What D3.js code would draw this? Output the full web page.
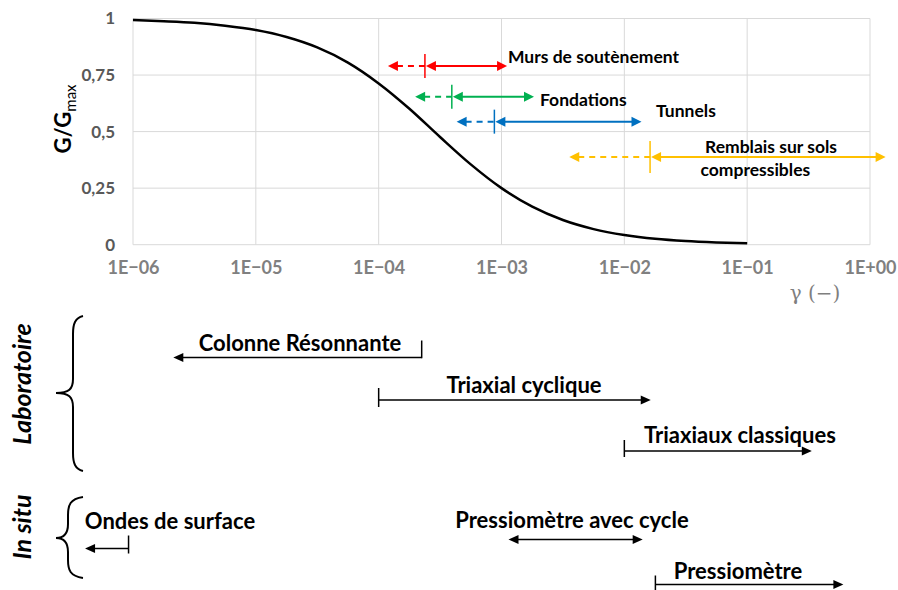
<!DOCTYPE html>
<html>
<head>
<meta charset="utf-8">
<script src="https://cdn.jsdelivr.net/npm/d3@7"></script>
<style>
  html, body { margin: 0; padding: 0; background: #fff; }
  svg { display: block; }
  .lbl { font-family: Lato, "Open Sans", sans-serif; font-weight: 700; fill: #000; }
</style>
</head>
<body>
<svg id="chart" width="898" height="590"></svg>
<script>
// Degradation curve G/Gmax versus shear strain gamma
const curveStrain = [1e-6, 1.78e-6, 3.16e-6, 5.62e-6, 1e-5, 1.78e-5, 3.16e-5, 5.62e-5,
  1e-4, 1.78e-4, 3.16e-4, 5.62e-4, 1e-3, 1.78e-3, 3.16e-3, 5.62e-3,
  1e-2, 1.78e-2, 3.16e-2, 5.62e-2, 1e-1];
const curveRatio = [0.993, 0.988, 0.981, 0.968, 0.949, 0.918, 0.872, 0.805,
  0.713, 0.601, 0.476, 0.355, 0.250, 0.168, 0.109, 0.069,
  0.043, 0.026, 0.016, 0.010, 0.006];

// Strain ranges of geotechnical works (dashed part, then solid part)
const workNames  = ["Murs de soutènement", "Fondations", "Tunnels", "Remblais sur sols|compressibles"];
const workColors = ["#ff0000", "#00b050", "#0070c0", "#ffc000"];
const workLow    = [1.19e-4, 1.98e-4, 4.31e-4, 3.56e-3];
const workMid    = [2.38e-4, 3.94e-4, 8.75e-4, 1.62e-2];
const workHigh   = [1.11e-3, 1.84e-3, 1.38e-2, 1.34];
const workLevel  = [0.79, 0.654, 0.544, 0.388];

// Strain ranges covered by test methods
const testGroups = ["Laboratoire", "In situ"];
const testNames  = ["Colonne Résonnante", "Triaxial cyclique", "Triaxiaux classiques",
                    "Ondes de surface", "Pressiomètre avec cycle", "Pressiomètre"];
const testGroup  = [0, 0, 0, 1, 1, 1];
const testFrom   = [2.13e-6, 1e-4, 1e-2, 4.07e-7, 1.14e-3, 1.79e-2];
const testTo     = [2.24e-4, 1.64e-2, 0.336, 9.2e-7, 1.41e-2, 0.607];
// where the end bar sits: at the right end, the left end, or none (double arrow)
const testEnds   = ["tick-right", "tick-left", "tick-left", "tick-right", "both", "tick-left"];

// Axis ticks
const xTickValues = [1e-6, 1e-5, 1e-4, 1e-3, 1e-2, 1e-1, 1];
const xTickLabels = ["1E\u221206", "1E\u221205", "1E\u221204", "1E\u221203", "1E\u221202", "1E\u221201", "1E+00"];
const yTickValues = [0, 0.25, 0.5, 0.75, 1];
const yTickLabels = ["0", "0,25", "0,5", "0,75", "1"];

const svg = d3.select("#chart");
const x = d3.scaleLog().domain([1e-6, 1]).range([133, 870]);
const y = d3.scaleLinear().domain([0, 1]).range([244.7, 18.5]);

// Gridlines
const grid = svg.append("g");
grid.selectAll("line.v").data(xTickValues).join("line")
  .attr("x1", d => x(d)).attr("x2", d => x(d))
  .attr("y1", y(1)).attr("y2", y(0))
  .attr("stroke", "#d9d9d9").attr("stroke-width", 1);
grid.selectAll("line.h").data(yTickValues).join("line")
  .attr("x1", x(1e-6)).attr("x2", x(1))
  .attr("y1", d => y(d)).attr("y2", d => y(d))
  .attr("stroke", "#d9d9d9").attr("stroke-width", 1);

// Axes (labels only, the lines come from the grid)
const xAxis = d3.axisBottom(x).tickValues(xTickValues)
  .tickFormat((d, i) => xTickLabels[i]).tickSize(0).tickPadding(17);
const gx = svg.append("g").attr("transform", `translate(0,${y(0)})`).call(xAxis);
gx.select(".domain").remove();
gx.selectAll("text").attr("font-family", "Lato, 'Open Sans', sans-serif")
  .attr("font-size", 18).attr("font-weight", 700).attr("fill", "#808080");

const yAxis = d3.axisLeft(y).tickValues(yTickValues)
  .tickFormat((d, i) => yTickLabels[i]).tickSize(0).tickPadding(18);
const gy = svg.append("g").attr("transform", `translate(${x(1e-6)},0)`).call(yAxis);
gy.select(".domain").remove();
gy.selectAll("text").attr("font-family", "Lato, 'Open Sans', sans-serif")
  .attr("font-size", 17).attr("font-weight", 700).attr("fill", "#595959");

// Axis titles
const yt = svg.append("text").attr("class", "lbl")
  .attr("transform", "translate(71,119) rotate(-90)")
  .attr("text-anchor", "middle").attr("font-size", 22);
yt.append("tspan").text("G/G");
yt.append("tspan").attr("font-size", 15).attr("font-weight", 400).attr("dy", 5).text("max");

svg.append("text").attr("x", 815).attr("y", 300)
  .attr("text-anchor", "middle")
  .attr("font-family", "'DejaVu Serif', 'Liberation Serif', serif")
  .attr("font-size", 20).attr("fill", "#7f7f7f")
  .text("\u03b3 (\u2212)");

// Curve
const line = d3.line().x(d => x(d[0])).y(d => y(d[1])).curve(d3.curveMonotoneX);
svg.append("path")
  .datum(curveStrain.map((g, i) => [g, curveRatio[i]]))
  .attr("d", line).attr("fill", "none").attr("stroke", "#000").attr("stroke-width", 2.5);

// Triangle arrowhead with its tip at (tx, ty), pointing right (dir = 1) or left (dir = -1)
function head(g, tx, ty, dir, color, len, half) {
  g.append("path")
    .attr("d", `M${tx},${ty}L${tx - dir * len},${ty - half}L${tx - dir * len},${ty + half}Z`)
    .attr("fill", color);
}

// Works ranges
workNames.forEach((name, i) => {
  const g = svg.append("g");
  const c = workColors[i];
  const yy = y(workLevel[i]);
  const xl = x(workLow[i]), xm = x(workMid[i]), xh = x(workHigh[i]);
  const L = 10, H = 5;
  g.append("line").attr("x1", xl + L - 1).attr("x2", xm).attr("y1", yy).attr("y2", yy)
    .attr("stroke", c).attr("stroke-width", 2).attr("stroke-dasharray", "6,5");
  head(g, xl, yy, -1, c, L, H);
  g.append("line").attr("x1", xm + L).attr("x2", xh - L + 1).attr("y1", yy).attr("y2", yy)
    .attr("stroke", c).attr("stroke-width", 2);
  head(g, xm + 1, yy, -1, c, L, H);
  head(g, xh, yy, 1, c, L, H);
  const tickHalf = i === 3 ? 16 : 12;
  g.append("line").attr("x1", xm).attr("x2", xm).attr("y1", yy - tickHalf).attr("y2", yy + tickHalf)
    .attr("stroke", c).attr("stroke-width", 1.5);
});

// Works labels
const workLabelPos = [[508, 63], [540, 106], [656, 117], [705, 153]];
workNames.forEach((name, i) => {
  const parts = name.split("|");
  const t = svg.append("text").attr("class", "lbl").attr("font-size", 17.5)
    .attr("x", workLabelPos[i][0]).attr("y", workLabelPos[i][1]);
  parts.forEach((p, k) => {
    t.append("tspan").attr("x", workLabelPos[i][0] - k * 4.5).attr("dy", k ? 23 : 0).text(p);
  });
});

// Test methods
const testRowY = [357.5, 400, 451, 548.5, 539.5, 584.5];
const testTick = [[-17, 0.75], [-12, 7], [-11, 6], [-13, 5], null, [-9, 6]];
const testLabelPos = [[300, 351], [524, 393], [740, 443], [170, 529], [572, 528], [738, 579]];
testNames.forEach((name, i) => {
  const g = svg.append("g");
  const yy = testRowY[i];
  const x0 = x(testFrom[i]), x1 = x(testTo[i]);
  const L = 10, H = 4.5;
  const e = testEnds[i];
  let a = x0, b = x1;
  if (e === "tick-right") { a = x0 + L - 1; }
  if (e === "tick-left") { b = x1 - L + 1; }
  if (e === "both") { a = x0 + L - 1; b = x1 - L + 1; }
  g.append("line").attr("x1", a).attr("x2", b).attr("y1", yy).attr("y2", yy)
    .attr("stroke", "#000").attr("stroke-width", 1.5);
  if (e === "tick-right") {
    head(g, x0, yy, -1, "#000", L, H);
    g.append("line").attr("x1", x1).attr("x2", x1)
      .attr("y1", yy + testTick[i][1]).attr("y2", yy + testTick[i][0])
      .attr("stroke", "#000").attr("stroke-width", 1.5);
  } else if (e === "tick-left") {
    head(g, x1, yy, 1, "#000", L, H);
    g.append("line").attr("x1", x0).attr("x2", x0)
      .attr("y1", yy + testTick[i][0]).attr("y2", yy + testTick[i][1])
      .attr("stroke", "#000").attr("stroke-width", 1.5);
  } else {
    head(g, x0, yy, -1, "#000", L, H);
    head(g, x1, yy, 1, "#000", L, H);
  }
  svg.append("text").attr("class", "lbl").attr("font-size", 22)
    .attr("x", testLabelPos[i][0]).attr("y", testLabelPos[i][1])
    .attr("text-anchor", "middle").text(name);
});

// Group braces and titles
function brace(x0, xm, xt, y0, ym, y1) {
  const r = 14;
  return `M${x0},${y0}C${xm + 2},${y0 + 2} ${xm},${y0 + 8} ${xm},${y0 + r + 4}` +
    `L${xm},${ym - r}C${xm},${ym - 4} ${xm - 4},${ym} ${xt},${ym}` +
    `C${xm - 4},${ym} ${xm},${ym + 4} ${xm},${ym + r}` +
    `L${xm},${y1 - r - 4}C${xm},${y1 - 8} ${xm + 2},${y1 - 2} ${x0},${y1}`;
}
const groupSpan = [[316, 393, 471], [497, 538, 578]];
const groupMid = [73, 68];
const groupTitleY = [384, 527];
testGroups.forEach((name, i) => {
  svg.append("path").attr("d", brace(83, groupMid[i], 56, groupSpan[i][0], groupSpan[i][1], groupSpan[i][2]))
    .attr("fill", "none").attr("stroke", "#000").attr("stroke-width", 2);
  svg.append("text").attr("class", "lbl").attr("font-size", 25).attr("font-style", "italic")
    .attr("font-weight", 600)
    .attr("transform", `translate(31,${groupTitleY[i]}) rotate(-90)`)
    .attr("text-anchor", "middle").text(name);
});
</script>
</body>
</html>
